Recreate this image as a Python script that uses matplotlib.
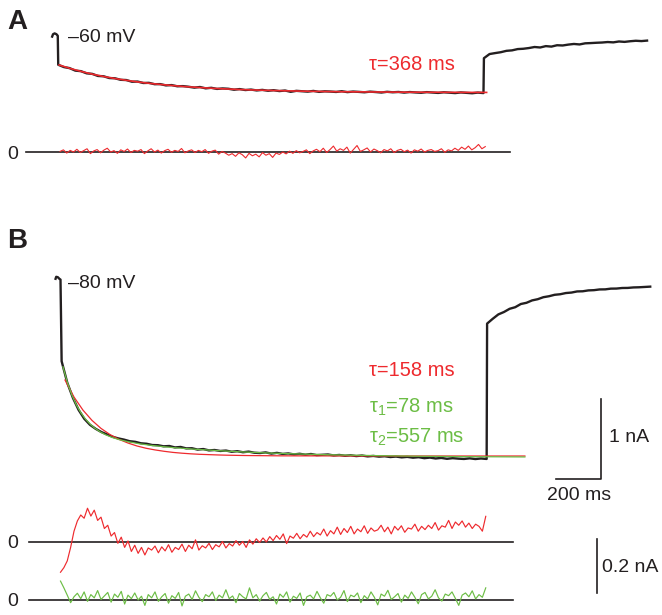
import numpy as np
import matplotlib
matplotlib.use('Agg')
import matplotlib.pyplot as plt

plt.rcParams['font.family'] = ['Liberation Sans', 'DejaVu Sans']
plt.rcParams['mathtext.fontset'] = 'custom'
plt.rcParams['mathtext.rm'] = 'Liberation Sans'
plt.rcParams['mathtext.it'] = 'Liberation Sans'

RED = '#ee2a2e'
GREEN = '#6cbd45'
INK = '#231f20'

# ---- data: currents in nA, residuals in pA, times in ms from step onset ----
# panel A (-60 mV)
a_pre_t = [-26, -22, -15, -7, -1]
a_pre = [-0.02, 0.01, 0.02, 0.01, -0.01]
a_decay = [-0.372, -0.401, -0.414, -0.445, -0.452, -0.479, -0.486, -0.512, -0.516, -0.538,
           -0.541, -0.560, -0.563, -0.584, -0.582, -0.600, -0.598, -0.615, -0.614, -0.630,
           -0.626, -0.641, -0.639, -0.647, -0.658, -0.650, -0.667, -0.660, -0.674, -0.668,
           -0.672, -0.684, -0.676, -0.688, -0.682, -0.693, -0.686, -0.697, -0.690, -0.701,
           -0.694, -0.710, -0.698, -0.703, -0.708, -0.699, -0.711, -0.704, -0.707, -0.712,
           -0.703, -0.714, -0.707, -0.711, -0.716, -0.708, -0.713, -0.719, -0.710, -0.716,
           -0.712, -0.720, -0.713, -0.718, -0.722, -0.714, -0.719, -0.724, -0.716, -0.721,
           -0.726, -0.718, -0.723, -0.728, -0.720, -0.726]
a_tail = [-0.29, -0.238, -0.226, -0.215, -0.198, -0.192, -0.176, -0.172, -0.163, -0.150,
          -0.156, -0.139, -0.145, -0.128, -0.131, -0.120, -0.112, -0.118, -0.104, -0.101,
          -0.097, -0.094, -0.088, -0.092, -0.081, -0.086, -0.078, -0.072, -0.076, -0.070]
a_fit = [-0.375, -0.419, -0.457, -0.491, -0.520, -0.545, -0.567, -0.587, -0.604, -0.618,
         -0.631, -0.643, -0.652, -0.661, -0.669, -0.675, -0.681, -0.686, -0.690, -0.694,
         -0.697, -0.700, -0.703, -0.705, -0.707, -0.709, -0.710, -0.711, -0.712, -0.713,
         -0.714, -0.715, -0.7155, -0.716, -0.7165, -0.717, -0.7173, -0.7176, -0.7178]
a_resid = [2, 8, -4, 6, 0, 10, -2, 5, 12, -6,
           4, 9, -3, 7, 14, 0, 5, -5, 8, 2,
           11, -2, 6, 3, 9, -6, 4, 12, 0, 7,
           -4, 5, 10, -1, 6, 2, 13, -3, 4, 8,
           -2, 6, 1, 9, -5, 3, 7, -8, 2, -4,
           -12, -6, -16, -3, -10, -22, -5, -14, -8, -18,
           -2, -12, -6, -20, -4, -9, 0, -7, 3, -5,
           5, -3, 2, 8, -6, 4, 10, 1, 14, -2,
           9, 22, 3, 12, 6, 18, -4, 10, 24, 2,
           8, 15, 0, 11, 5, -3, 9, 4, 12, -2,
           6, 10, 1, 7, -4, 8, 3, 11, 0, 6,
           9, 2, 5, 12, -1, 8, 4, 14, 6, 18,
           10, 22, 8, 16, 28, 12, 20]

# panel B (-80 mV)
b_pre_t = [-22, -19, -12, -5, 0]
b_pre = [-0.01, 0.015, 0.01, -0.01, -0.02]
b_decay = [-1.04, -1.31, -1.50, -1.65, -1.76, -1.835, -1.885, -1.925, -1.955, -1.985,
           -2.005, -2.020, -2.040, -2.048, -2.066, -2.072, -2.088, -2.090, -2.104, -2.100,
           -2.118, -2.112, -2.130, -2.128, -2.145, -2.138, -2.155, -2.150, -2.162, -2.157,
           -2.172, -2.165, -2.178, -2.170, -2.184, -2.188, -2.180, -2.195, -2.186, -2.199,
           -2.193, -2.205, -2.197, -2.209, -2.200, -2.214, -2.210, -2.206, -2.218, -2.212,
           -2.222, -2.216, -2.226, -2.219, -2.230, -2.224, -2.233, -2.228, -2.238, -2.232,
           -2.242, -2.236, -2.246, -2.240, -2.252, -2.245, -2.256, -2.249, -2.260, -2.252,
           -2.258, -2.262, -2.254, -2.263, -2.256, -2.262]
b_tail = [-0.57, -0.51, -0.455, -0.425, -0.385, -0.365, -0.325, -0.31, -0.28, -0.265,
          -0.24, -0.228, -0.21, -0.203, -0.188, -0.182, -0.168, -0.166, -0.155, -0.152,
          -0.143, -0.142, -0.133, -0.132, -0.125, -0.124, -0.118, -0.116, -0.112, -0.108]
b_fit1_t = [20, 60, 100, 140, 180, 220, 260, 300, 340, 380, 420, 460, 500, 540, 580,
            620, 660, 700, 740, 780, 820, 860, 900, 940, 980, 1100, 1300, 1500, 1700, 1900, 2064]
b_fit1 = [-1.275, -1.488, -1.652, -1.780, -1.880, -1.957, -2.017, -2.063, -2.100, -2.128,
          -2.149, -2.166, -2.180, -2.190, -2.198, -2.204, -2.208, -2.212, -2.215, -2.217,
          -2.219, -2.220, -2.221, -2.222, -2.223, -2.2235, -2.224, -2.2245, -2.225, -2.225, -2.225]
b_fit2_t = [11, 30, 50, 70, 90, 110, 130, 150, 175, 200, 230, 260, 300, 350, 400, 450, 500,
            600, 700, 800, 900, 1000, 1200, 1400, 1600, 1800, 2064]
b_fit2 = [-1.110, -1.301, -1.459, -1.584, -1.682, -1.760, -1.822, -1.872, -1.921, -1.959,
          -1.993, -2.020, -2.046, -2.072, -2.091, -2.106, -2.120, -2.141, -2.158, -2.173,
          -2.185, -2.195, -2.210, -2.220, -2.228, -2.233, -2.237]
b_resid1 = [-112, -95, -70, -20, 40, 78, 100, 88, 125, 96,
            118, 80, 92, 50, 62, 22, 35, -5, 18, -20,
            4, -35, -12, -42, -20, -48, -22, -30, -15, -40,
            -18, -33, -10, -38, -20, -28, -8, -35, -12, -25,
            8, -30, -14, -22, -5, -28, -10, -18, 2, -22,
            -6, -15, 5, -12, 2, -20, 8, -8, 12, -2,
            15, 0, 20, 5, 24, 10, 30, -6, 22, 14,
            32, 12, 28, 18, 40, 20, 35, 26, 48, 22,
            42, 30, 55, 28, 50, 35, 58, 30, 48, 38,
            60, 32, 52, 40, 45, 62, 38, 55, 30, 58,
            44, 60, 36, 52, 48, 66, 40, 58, 46, 62,
            50, 72, 44, 60, 55, 80, 50, 74, 62, 78,
            55, 70, 50, 66, 58, 40, 95]
b_resid2 = [70, 45, 18, -10, 12, 25, 5, 30, -5, 20,
            8, 35, 2, 15, 28, -8, 22, 10, 32, -15,
            18, 5, 26, 0, 14, -20, 20, 8, 30, -5,
            12, 24, -12, 16, 6, 28, -22, 14, 22, 2,
            34, 10, -6, 20, 12, 30, -2, 18, 8, 38,
            5, 15, -10, 24, 12, 4, 45, 8, 20, -4,
            16, 28, 2, 12, -15, 22, 10, 30, -8, 14,
            6, 26, -20, 12, 18, 4, 32, 8, -12, 20,
            14, 28, 0, 10, 35, -6, 18, 12, 26, -10,
            16, 4, 30, 10, -18, 22, 14, 36, 2, 12,
            24, -8, 18, 6, 30, 10, -14, 20, 28, 4,
            14, 38, 8, -4, 22, 16, 30, 6, -20, 18,
            26, 12, 34, 4, 20, 10, 45]

DT_TRACE = 25   # ms between trace samples
DT_FIT = 50
DT_RESID = 15
STEP_END_A = 1893
STEP_END_B = 1896

# ---- layout (pixels of the 662x615 figure) ----
W, H = 662, 615
MS_PER_PX = 200 / 45.0
PX_PER_NA = 80.0
PX_PER_NA_RES = 270.0

fig = plt.figure(figsize=(W / 100, H / 100), dpi=100)


def overlay(x0, y0, px_per_unit):
    # transparent full-figure axes with t=0 at x0 and current 0 at y0
    ax = fig.add_axes([0, 0, 1, 1])
    ax.set_xlim(-x0 * MS_PER_PX, (W - x0) * MS_PER_PX)
    ax.set_ylim(-(H - y0) / px_per_unit, y0 / px_per_unit)
    ax.axis('off')
    ax.patch.set_alpha(0)
    return ax


def ftext(x, y, s, **kw):
    kw.setdefault('color', INK)
    kw.setdefault('fontsize', 14)
    fig.text(x / W, 1 - y / H, s, va='center', ha='left', **kw)


def zero_line(ax):
    ax.plot([-140, 2010], [0, 0], color=INK, lw=1.2)


def trace_time(pre_t, start, stop, n_decay, n_tail):
    return np.concatenate([pre_t, np.linspace(start, stop - 2, n_decay),
                           stop + DT_TRACE * np.arange(n_tail)])


# panel A traces
ax = overlay(58, 35, PX_PER_NA)
t = trace_time(a_pre_t, 1, STEP_END_A, len(a_decay), len(a_tail))
ax.plot(t, np.concatenate([a_pre, a_decay, a_tail]), color=INK, lw=1.7)
ax.plot(5 + DT_FIT * np.arange(len(a_fit)), a_fit, color=RED, lw=1.2)

ax = overlay(58, 152, PX_PER_NA_RES)
zero_line(ax)
ax.plot(9 + DT_RESID * np.arange(len(a_resid)), np.array(a_resid) / 1000, color=RED, lw=0.8)

# panel B traces
ax = overlay(60.5, 278, PX_PER_NA)
t = trace_time(b_pre_t, 5, STEP_END_B, len(b_decay), len(b_tail))
ax.plot(t, np.concatenate([b_pre, b_decay, b_tail]), color=INK, lw=1.7)
ax.plot(b_fit1_t, b_fit1, color=RED, lw=0.9)
ax.plot(b_fit2_t, b_fit2, color=GREEN, lw=0.9)
# scale bar 200 ms / 1 nA
sx, sy = 2402, -2.5125
ax.plot([sx - 200, sx, sx], [sy, sy, sy + 1.0], color=INK, lw=1.2)

ax = overlay(60.5, 542, PX_PER_NA_RES)
zero_line(ax)
ax.plot(DT_RESID * np.arange(len(b_resid1)), np.array(b_resid1) / 1000, color=RED, lw=0.85)
ax.plot([2384, 2384], [-0.19, 0.01], color=INK, lw=1.2)

ax = overlay(60.5, 600, PX_PER_NA_RES)
zero_line(ax)
ax.plot(DT_RESID * np.arange(len(b_resid2)), np.array(b_resid2) / 1000, color=GREEN, lw=0.85)

# labels
ftext(7, 22, 'A', fontsize=20, fontweight='bold')
ftext(68, 38, '\u201360 mV')
ftext(369, 64, '\u03c4=368 ms', color=RED, fontsize=14.5)
ftext(7, 154, '0')
ftext(7, 241, 'B', fontsize=20, fontweight='bold')
ftext(68, 283, '\u201380 mV')
ftext(369, 371, '\u03c4=158 ms', color=RED, fontsize=14.5)
ftext(369, 407, '\u03c4$_1$=78 ms', color=GREEN, fontsize=14.5)
ftext(369, 437, '\u03c4$_2$=557 ms', color=GREEN, fontsize=14.5)
ftext(609, 438, '1 nA')
ftext(547, 495, '200 ms')
ftext(7, 544, '0')
ftext(7, 602, '0')
ftext(602, 567, '0.2 nA')

fig.savefig('out.png', dpi=100)
